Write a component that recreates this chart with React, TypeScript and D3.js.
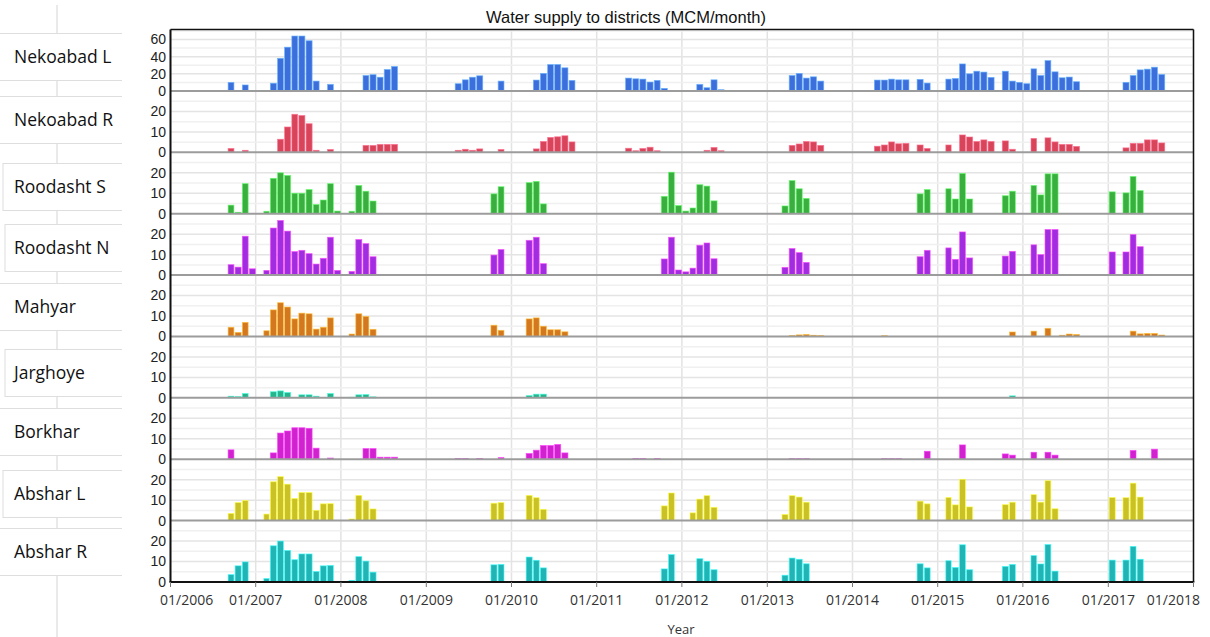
import React from "react";
import * as d3 from "d3";

// ---------- data ----------
const DISTRICTS = ["Nekoabad L", "Nekoabad R", "Roodasht S", "Roodasht N", "Mahyar", "Jarghoye", "Borkhar", "Abshar L", "Abshar R"];

const nekoabadL: [string, number][] = [
  ["2006-09", 10], ["2006-11", 7], ["2007-03", 9], ["2007-04", 38], ["2007-05", 51], ["2007-06", 64], ["2007-07", 64], ["2007-08", 58.5], ["2007-09", 11.5], ["2007-11", 7.7],
  ["2008-04", 18], ["2008-05", 19], ["2008-06", 16], ["2008-07", 25], ["2008-08", 28.5],
  ["2009-05", 8.5], ["2009-06", 13], ["2009-07", 16], ["2009-08", 17.7], ["2009-11", 11.5],
  ["2010-04", 12.7], ["2010-05", 20.4], ["2010-06", 30.8], ["2010-07", 30.8], ["2010-08", 27], ["2010-09", 12.3],
  ["2011-05", 15], ["2011-06", 14.2], ["2011-07", 13.8], ["2011-08", 10.4], ["2011-09", 12.3], ["2011-10", 3],
  ["2012-03", 7.7], ["2012-04", 3.8], ["2012-05", 13], ["2012-06", 1.5],
  ["2013-04", 18], ["2013-05", 20.4], ["2013-06", 15], ["2013-07", 16.5], ["2013-08", 11.5],
  ["2014-04", 12.7], ["2014-05", 12.7], ["2014-06", 13.8], ["2014-07", 13], ["2014-08", 13], ["2014-10", 13.5], ["2014-11", 9.2],
  ["2015-02", 13.8], ["2015-03", 14.6], ["2015-04", 31.5], ["2015-05", 20], ["2015-06", 23], ["2015-07", 22], ["2015-08", 15.8], ["2015-10", 23], ["2015-11", 11.5], ["2015-12", 10],
  ["2016-01", 8.5], ["2016-02", 25.8], ["2016-03", 18], ["2016-04", 35.4], ["2016-05", 22.3], ["2016-06", 15.4], ["2016-07", 16.2], ["2016-08", 10.8],
  ["2017-03", 10], ["2017-04", 18], ["2017-05", 24.6], ["2017-06", 25.4], ["2017-07", 27.7], ["2017-08", 19.2],
];

const nekoabadR: [string, number][] = [
  ["2006-09", 1.9], ["2006-11", 1], ["2007-04", 6.4], ["2007-05", 12.4], ["2007-06", 18.6], ["2007-07", 18], ["2007-08", 14], ["2007-09", 1], ["2007-11", 1.4],
  ["2008-04", 3.4], ["2008-05", 3.4], ["2008-06", 3.9], ["2008-07", 3.9], ["2008-08", 3.9],
  ["2009-05", 1], ["2009-06", 1.5], ["2009-07", 1], ["2009-08", 1.7], ["2009-11", 1.4],
  ["2010-04", 1.7], ["2010-05", 5.3], ["2010-06", 7.3], ["2010-07", 7.6], ["2010-08", 8.1], ["2010-09", 5.1],
  ["2011-05", 2], ["2011-06", 0.8], ["2011-07", 1.9], ["2011-08", 2.5], ["2011-09", 0.8],
  ["2012-04", 1], ["2012-05", 2.4], ["2012-06", 0.8],
  ["2013-04", 3.4], ["2013-05", 4.1], ["2013-06", 5.3], ["2013-07", 5.1], ["2013-08", 3.4],
  ["2014-04", 3], ["2014-05", 3.6], ["2014-06", 5.1], ["2014-07", 4.2], ["2014-08", 4.4], ["2014-10", 3.6], ["2014-11", 1.9],
  ["2015-02", 3.6], ["2015-04", 8.5], ["2015-05", 7.5], ["2015-06", 5.3], ["2015-07", 6.1], ["2015-08", 5.3], ["2015-10", 5.6], ["2015-11", 1.5],
  ["2016-02", 6.8], ["2016-04", 7.1], ["2016-05", 5.1], ["2016-06", 3.9], ["2016-07", 3.9], ["2016-08", 2.9],
  ["2017-03", 2.2], ["2017-04", 4.4], ["2017-05", 4.4], ["2017-06", 6.1], ["2017-07", 6.1], ["2017-08", 4.6],
];

const roodashtS: [string, number][] = [
  ["2006-09", 4.2], ["2006-10", 0.7], ["2006-11", 14.7], ["2007-02", 1.2], ["2007-03", 17.3], ["2007-04", 20], ["2007-05", 18.7], ["2007-06", 10], ["2007-07", 10], ["2007-08", 11.8], ["2007-09", 4.5], ["2007-10", 6.7], ["2007-11", 14.7], ["2007-12", 1.3],
  ["2008-02", 1.2], ["2008-03", 13.8], ["2008-04", 11], ["2008-05", 6.2],
  ["2009-10", 9.7], ["2009-11", 13.2], ["2010-03", 15.2], ["2010-04", 15.8], ["2010-05", 4.8],
  ["2011-10", 8.5], ["2011-11", 20.3], ["2011-12", 4], ["2012-01", 1.3], ["2012-02", 2.8], ["2012-03", 14.2], ["2012-04", 13.5], ["2012-05", 6.3],
  ["2013-03", 3.8], ["2013-04", 16.2], ["2013-05", 12.2], ["2013-06", 7.5],
  ["2014-10", 9.7], ["2014-11", 11.8], ["2015-02", 12.2], ["2015-03", 7.2], ["2015-04", 19.7], ["2015-05", 7.2], ["2015-10", 8.8], ["2015-11", 11],
  ["2016-02", 13.8], ["2016-03", 9.2], ["2016-04", 19.5], ["2016-05", 19.5],
  ["2017-01", 10.7], ["2017-03", 10.2], ["2017-04", 18.2], ["2017-05", 11.3],
];

const roodashtN: [string, number][] = [
  ["2006-09", 5.1], ["2006-10", 3.9], ["2006-11", 19], ["2006-12", 3.1], ["2007-02", 2.3], ["2007-03", 23], ["2007-04", 26.7], ["2007-05", 21.5], ["2007-06", 11.5], ["2007-07", 12.1], ["2007-08", 10.5], ["2007-09", 5.4], ["2007-10", 8.2], ["2007-11", 18.5], ["2007-12", 2.3],
  ["2008-02", 1.8], ["2008-03", 17.4], ["2008-04", 15.4], ["2008-05", 9],
  ["2009-10", 9.8], ["2009-11", 12.5], ["2010-03", 17], ["2010-04", 18.5], ["2010-05", 5.6],
  ["2011-10", 7.9], ["2011-11", 18.5], ["2011-12", 2.5], ["2012-01", 1.6], ["2012-02", 3.4], ["2012-03", 14.6], ["2012-04", 15.7], ["2012-05", 8],
  ["2013-03", 3.8], ["2013-04", 13], ["2013-05", 11], ["2013-06", 6.2],
  ["2014-10", 9], ["2014-11", 12.1], ["2015-02", 13.3], ["2015-03", 7.7], ["2015-04", 21.1], ["2015-05", 8.4], ["2015-10", 9.3], ["2015-11", 11.6],
  ["2016-02", 14.8], ["2016-03", 10], ["2016-04", 22.3], ["2016-05", 22.3],
  ["2017-01", 11.3], ["2017-03", 11.3], ["2017-04", 19.8], ["2017-05", 13.9],
];

const mahyar: [string, number][] = [
  ["2006-09", 4.5], ["2006-10", 2], ["2006-11", 6.9], ["2007-02", 2.8], ["2007-03", 13], ["2007-04", 16.5], ["2007-05", 14.4], ["2007-06", 8.6], ["2007-07", 11.4], ["2007-08", 11.1], ["2007-09", 3.6], ["2007-10", 4.5], ["2007-11", 9.1],
  ["2008-02", 1.2], ["2008-03", 11.1], ["2008-04", 9.8], ["2008-05", 3.5],
  ["2009-10", 5.5], ["2009-11", 3], ["2010-03", 8.6], ["2010-04", 9.1], ["2010-05", 5], ["2010-06", 3.3], ["2010-07", 3.3], ["2010-08", 2.3],
  ["2013-04", 0.5], ["2013-05", 0.8], ["2013-06", 1], ["2013-07", 0.6], ["2013-08", 0.5], ["2014-05", 0.4],
  ["2015-11", 2.2], ["2016-02", 2.6], ["2016-04", 4], ["2016-06", 0.6], ["2016-07", 1.2], ["2016-08", 1],
  ["2017-04", 2.6], ["2017-05", 1.3], ["2017-06", 1.5], ["2017-07", 1.5], ["2017-08", 0.7],
];

const jarghoye: [string, number][] = [
  ["2006-09", 0.8], ["2006-10", 0.6], ["2006-11", 2.1], ["2007-03", 3], ["2007-04", 3.4], ["2007-05", 2.6], ["2007-07", 1.5], ["2007-08", 1.5], ["2007-09", 0.8], ["2007-11", 2.1],
  ["2008-02", 0.3], ["2008-03", 1.5], ["2008-04", 1.6], ["2008-05", 0.5],
  ["2010-03", 1.1], ["2010-04", 1.8], ["2010-05", 1.8], ["2015-11", 1],
];

const borkhar: [string, number][] = [
  ["2006-09", 4.6], ["2007-03", 3.1], ["2007-04", 12.8], ["2007-05", 13.8], ["2007-06", 15.4], ["2007-07", 15.4], ["2007-08", 15.1], ["2007-09", 5.4], ["2007-11", 0.6],
  ["2008-04", 5.2], ["2008-05", 5.2], ["2008-06", 1], ["2008-07", 1], ["2008-08", 1],
  ["2009-05", 0.4], ["2009-06", 0.4], ["2009-08", 0.4], ["2009-11", 0.8],
  ["2010-03", 2.8], ["2010-04", 4.4], ["2010-05", 6.7], ["2010-06", 6.7], ["2010-07", 7.2], ["2010-08", 3.1],
  ["2011-06", 0.4], ["2011-07", 0.4], ["2011-09", 0.4],
  ["2013-04", 0.3], ["2013-05", 0.3], ["2013-06", 0.3], ["2014-05", 0.3], ["2014-06", 0.3], ["2014-07", 0.3], ["2014-11", 3.9],
  ["2015-04", 7], ["2015-10", 2.6], ["2015-11", 2], ["2016-02", 3.4], ["2016-04", 3.4], ["2016-05", 2],
  ["2017-04", 4.3], ["2017-07", 4.9],
];

const absharL: [string, number][] = [
  ["2006-09", 3.5], ["2006-10", 8.8], ["2006-11", 9.8], ["2007-02", 3.2], ["2007-03", 19], ["2007-04", 21.5], ["2007-05", 17.8], ["2007-06", 10.8], ["2007-07", 13.7], ["2007-08", 13.7], ["2007-09", 5], ["2007-10", 8.2], ["2007-11", 8.3],
  ["2008-02", 0.8], ["2008-03", 12.3], ["2008-04", 9.7], ["2008-05", 5.7],
  ["2009-10", 8.5], ["2009-11", 8.8], ["2010-03", 12.3], ["2010-04", 11.2], ["2010-05", 5.5],
  ["2011-10", 7.2], ["2011-11", 13.5], ["2012-02", 3.8], ["2012-03", 10.5], ["2012-04", 12.2], ["2012-05", 6.5],
  ["2013-03", 3], ["2013-04", 12.2], ["2013-05", 11.5], ["2013-06", 9],
  ["2014-10", 9.5], ["2014-11", 8.2], ["2015-02", 11.3], ["2015-03", 7.7], ["2015-04", 20.2], ["2015-05", 6.7], ["2015-10", 7.8], ["2015-11", 9],
  ["2016-02", 12.7], ["2016-03", 9], ["2016-04", 19.5], ["2016-05", 5.8],
  ["2017-01", 11.3], ["2017-03", 11.2], ["2017-04", 18.3], ["2017-05", 11.5],
];

const absharR: [string, number][] = [
  ["2006-09", 3.6], ["2006-10", 7.9], ["2006-11", 9.8], ["2007-02", 1.7], ["2007-03", 17.7], ["2007-04", 20], ["2007-05", 15.4], ["2007-06", 10.9], ["2007-07", 13.7], ["2007-08", 13.7], ["2007-09", 5.1], ["2007-10", 7.9], ["2007-11", 8.1],
  ["2008-02", 0.8], ["2008-03", 12.4], ["2008-04", 10.2], ["2008-05", 4.8],
  ["2009-10", 8.4], ["2009-11", 8.6], ["2010-03", 12.2], ["2010-04", 10.6], ["2010-05", 6.9],
  ["2011-10", 6.4], ["2011-11", 13.4], ["2012-03", 11.4], ["2012-04", 10.1], ["2012-05", 6],
  ["2013-03", 3.3], ["2013-04", 11.7], ["2013-05", 11.1], ["2013-06", 8.9],
  ["2014-10", 8.9], ["2014-11", 6.9], ["2015-02", 10.4], ["2015-03", 7.1], ["2015-04", 18.2], ["2015-05", 6], ["2015-10", 7.6], ["2015-11", 8.6],
  ["2016-02", 12.9], ["2016-03", 8.8], ["2016-04", 18.3], ["2016-05", 5.3],
  ["2017-01", 10.7], ["2017-03", 10.7], ["2017-04", 17.4], ["2017-05", 11.1],
];

const SERIES = [nekoabadL, nekoabadR, roodashtS, roodashtN, mahyar, jarghoye, borkhar, absharL, absharR];
const COLORS = ["#3d6fdc", "#d8455a", "#3aae3f", "#a12de0", "#d47820", "#27b48c", "#d023cf", "#c9c126", "#22b4b4"];
const Y_MAX = [71.5, 30, 30, 30, 30, 30, 30, 30, 30];
const Y_TICKS = [[0, 20, 40, 60], [0, 10, 20], [0, 10, 20], [0, 10, 20], [0, 10, 20], [0, 10, 20], [0, 10, 20], [0, 10, 20], [0, 10, 20]];
const Y_GRID_STEP = [10, 5, 5, 5, 5, 5, 5, 5, 5];
const YEARS = d3.range(2006, 2019);
const TITLE = "Water supply to districts (MCM/month)";
const X_TITLE = "Year";

// ---------- layout ----------
const W = 1210, H = 637;
const PL = 170.5, PR = 1193.5, PT = 29.6, PB = 582;
const PANEL_H = (PB - PT) / DISTRICTS.length;
const LABEL_Y = [57, 120, 187, 248, 307, 373, 432, 494, 552];
const BOX_LEFT = [-1, -1, 3, 5, -1, 5, -1, 3, -1];

const parseMonth = d3.timeParse("%Y-%m");

export default function App() {
  const x = d3.scaleTime().domain([new Date(2006, 0, 1), new Date(2018, 0, 1)]).range([PL, PR]);

  return (
    <svg width={W} height={H} style={{ position: "absolute", left: 0, top: 0, background: "#fff" }}>
      <rect x={0} y={0} width={W} height={H} fill="#fff" />
      {/* left labels */}
      <line x1={57} x2={57} y1={5} y2={H} stroke="#d4d4d4" strokeWidth={1} />
      {DISTRICTS.map((d, i) => (
        <g key={"lab" + i}>
          <rect x={BOX_LEFT[i]} y={LABEL_Y[i] - 23.5} width={140 - BOX_LEFT[i]} height={47} fill="#fff" stroke="#dedede" strokeWidth={1} />
          <text x={14} y={LABEL_Y[i]} dy="0.35em" fontFamily="'Open Sans', sans-serif" fontSize={17.5} fill="#111">{d}</text>
        </g>
      ))}
      <rect x={122} y={0} width={W - 122} height={H} fill="#fff" />

      {/* title */}
      <text x={626} y={23} textAnchor="middle" fontFamily="'Liberation Sans', Arial, sans-serif" fontSize={16.5} fill="#111">{TITLE}</text>

      {/* vertical year gridlines */}
      {YEARS.map((yr) => {
        const xx = x(new Date(yr, 0, 1));
        return <line key={"vg" + yr} x1={xx} x2={xx} y1={PT} y2={PB} stroke="#e3e3e3" strokeWidth={1.5} />;
      })}

      {DISTRICTS.map((d, i) => {
        const top = PT + i * PANEL_H;
        const bottom = top + PANEL_H;
        const y = d3.scaleLinear().domain([0, Y_MAX[i]]).range([bottom, top]);
        const grid = d3.range(Y_GRID_STEP[i], Y_MAX[i], Y_GRID_STEP[i]);
        const col = COLORS[i];
        const stroke = d3.color(col)!.brighter(1.3).formatHex();
        return (
          <g key={"p" + i}>
            {grid.map((v) => (
              <line key={"hg" + v} x1={PL} x2={PR} y1={y(v)} y2={y(v)}
                stroke={Y_TICKS[i].includes(v) ? "#e4e4e4" : "#f0f0f0"} strokeWidth={1.5} />
            ))}
            {SERIES[i].map(([m, v]) => {
              const d0 = parseMonth(m)!;
              const d1 = d3.timeMonth.offset(d0, 1);
              const x0 = x(d0) + 0.9;
              const x1 = x(d1) - 0.3;
              return (
                <rect key={m} x={x0} y={y(v)} width={x1 - x0} height={bottom - y(v)}
                  fill={col} stroke={stroke} strokeOpacity={0.75} strokeWidth={0.8} />
              );
            })}
            {i < DISTRICTS.length - 1 && (
              <line x1={PL} x2={PR} y1={bottom} y2={bottom} stroke="#9c9c9c" strokeWidth={2} />
            )}
            {Y_TICKS[i].map((t) => (
              <text key={"yt" + t} x={166} y={y(t)} dy="0.35em" textAnchor="end"
                fontFamily="'Liberation Sans', Arial, sans-serif" fontSize={14} fill="#222">{t}</text>
            ))}
          </g>
        );
      })}

      {/* frame */}
      <line x1={PL} x2={PR} y1={PT} y2={PT} stroke="#111" strokeWidth={1.5} />
      <line x1={PR} x2={PR} y1={PT} y2={PB} stroke="#111" strokeWidth={1.5} />
      <line x1={PL} x2={PL} y1={PT} y2={PB} stroke="#111" strokeWidth={2} />
      <line x1={PL - 1} x2={PR + 0.75} y1={PB} y2={PB} stroke="#111" strokeWidth={2} />

      {/* x ticks and labels */}
      {YEARS.map((yr, k) => {
        const xx = x(new Date(yr, 0, 1));
        const first = k === 0;
        const last = k === YEARS.length - 1;
        return (
          <g key={"xt" + yr}>
            <line x1={xx} x2={xx} y1={PB} y2={PB + 5} stroke="#777" strokeWidth={1} />
            <text x={first ? 160 : last ? 1200 : xx} y={605} textAnchor={first ? "start" : last ? "end" : "middle"}
              fontFamily="'Open Sans', sans-serif" fontSize={14} fill="#333">{"01/" + yr}</text>
          </g>
        );
      })}
      <text x={681} y={634} textAnchor="middle" fontFamily="'Open Sans', sans-serif" fontSize={13} fill="#333">{X_TITLE}</text>
    </svg>
  );
}
